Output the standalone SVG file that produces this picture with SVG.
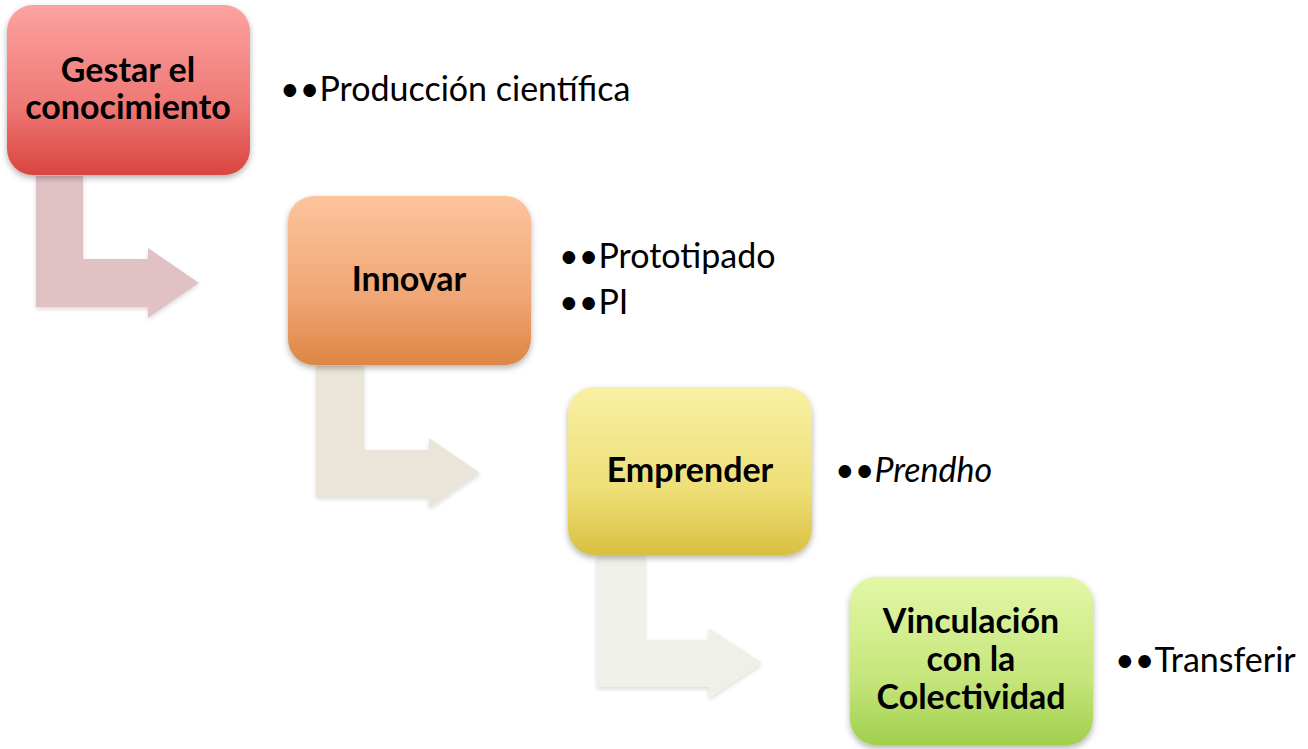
<svg xmlns="http://www.w3.org/2000/svg" width="1308" height="749" viewBox="0 0 1308 749">
<style>
.lbl{font-family:Lato,"Liberation Sans",sans-serif;font-weight:bold;font-size:34px;fill:#000;text-anchor:middle}
.side{font-family:Lato,"Liberation Sans",sans-serif;font-size:34px;fill:#000}
.box{filter:url(#sh)}
.arr{filter:url(#sh2)}
</style>
<defs>
<linearGradient id="g1" x1="0" y1="0" x2="0" y2="1"><stop offset="0" stop-color="#FCA3A1"/><stop offset="0.6" stop-color="#EE7774"/><stop offset="1" stop-color="#D9453F"/></linearGradient>
<linearGradient id="g2" x1="0" y1="0" x2="0" y2="1"><stop offset="0" stop-color="#FCC49C"/><stop offset="0.6" stop-color="#F0A675"/><stop offset="1" stop-color="#DE8644"/></linearGradient>
<linearGradient id="g3" x1="0" y1="0" x2="0" y2="1"><stop offset="0" stop-color="#F9F0A4"/><stop offset="0.6" stop-color="#EEDF78"/><stop offset="1" stop-color="#D8C040"/></linearGradient>
<linearGradient id="g4" x1="0" y1="0" x2="0" y2="1"><stop offset="0" stop-color="#E3F7A6"/><stop offset="0.6" stop-color="#C6E67C"/><stop offset="1" stop-color="#A0D04E"/></linearGradient>
<filter id="sh" x="-10%" y="-10%" width="120%" height="125%"><feDropShadow dx="0" dy="3" stdDeviation="3" flood-color="#000" flood-opacity="0.3"/></filter>
<filter id="sh2" x="-10%" y="-10%" width="120%" height="125%"><feDropShadow dx="0" dy="2" stdDeviation="2" flood-color="#000" flood-opacity="0.15"/></filter>
</defs>
<g id="connectors">
<path class="arr" fill="#E0C2C5" d="M36,176 H83 V259 H148 V248 L199,283 L148,318 V307 H36 Z"/>
<path class="arr" fill="#EAE4D9" d="M316,366 H364 V450 H429 V438 L480,473 L429,508 V497 H316 Z"/>
<path class="arr" fill="#EFF0E8" d="M597,556 H645 V640 H709 V628 L762,663 L709,698 V687 H597 Z"/>
</g>
<g id="node1">
<rect class="box" x="7" y="5" width="243" height="170" rx="26" fill="url(#g1)"/>
<text class="lbl" x="128" y="82" font-size="33">Gestar el</text>
<text class="lbl" x="128" y="119" font-size="33">conocimiento</text>
</g>
<g id="node2">
<rect class="box" x="288" y="196" width="243" height="169" rx="26" fill="url(#g2)"/>
<text class="lbl" x="409" y="291">Innovar</text>
</g>
<g id="node3">
<rect class="box" x="568" y="387" width="244" height="168" rx="26" fill="url(#g3)"/>
<text class="lbl" x="690" y="482">Emprender</text>
</g>
<g id="node4">
<rect class="box" x="850" y="577" width="243" height="168" rx="26" fill="url(#g4)"/>
<text class="lbl" x="971" y="633">Vinculación</text>
<text class="lbl" x="971" y="671">con la</text>
<text class="lbl" x="971" y="709">Colectividad</text>
</g>
<g id="text1"><text class="side" x="280" y="101">••Producción científica</text></g>
<g id="text2"><text class="side" x="559" y="268">••Prototipado</text><text class="side" x="559" y="314">••PI</text></g>
<g id="text3"><text class="side" x="835" y="482">••<tspan font-style="italic">Prendho</tspan></text></g>
<g id="text4"><text class="side" x="1115" y="672">••Transferir</text></g>
</svg>
